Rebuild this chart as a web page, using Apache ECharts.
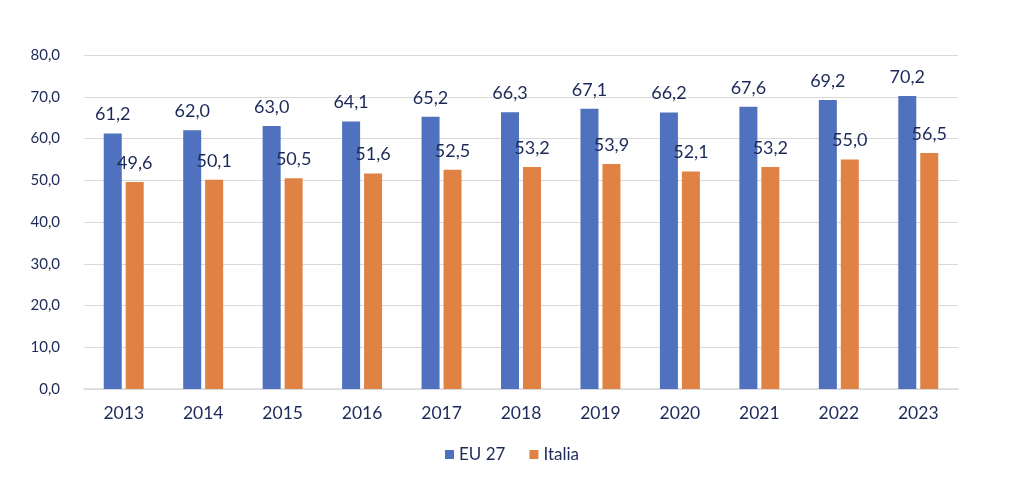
<!DOCTYPE html>
<html><head><meta charset="utf-8">
<script src="https://cdn.jsdelivr.net/npm/echarts@6/dist/echarts.min.js"></script>
<style>html,body{margin:0;padding:0;background:#fff}#c{width:1024px;height:501px}</style>
</head><body><div id="c"></div>
<script>
const years = ['2013','2014','2015','2016','2017','2018','2019','2020','2021','2022','2023'];
const eu27 = [61.2,62.0,63.0,64.1,65.2,66.3,67.1,66.2,67.6,69.2,70.2];
const italia = [49.6,50.1,50.5,51.6,52.5,53.2,53.9,52.1,53.2,55.0,56.5];
const fmt = v => v.toFixed(1).replace('.', ',');
const txt = '#1c2a58';
const chart = echarts.init(document.getElementById('c'));
chart.setOption({
  animation:false,
  textStyle:{fontFamily:'Lato'},
  grid:{left:84,right:66,top:55,bottom:112},
  legend:{bottom:33,left:'center',itemWidth:9,itemHeight:9,itemGap:24,icon:'rect',
    textStyle:{color:txt,fontSize:17,fontFamily:'Lato'}},
  xAxis:{type:'category',data:years,axisTick:{show:false},
    axisLine:{lineStyle:{color:'#d9d9d9',width:1.5}},
    axisLabel:{color:txt,fontSize:17.5,margin:15,fontFamily:'Lato'}},
  yAxis:{type:'value',min:0,max:80,interval:10,
    axisLabel:{color:txt,fontSize:15,margin:24,formatter:v=>fmt(v),fontFamily:'Lato'},
    splitLine:{lineStyle:{color:'#d9d9d9',width:1.2}}},
  series:[
    {name:'EU 27',type:'bar',data:eu27,barWidth:18,barGap:'22%',
     itemStyle:{color:'#4f71be'},
     label:{show:true,position:'top',distance:10,color:txt,fontSize:18,formatter:p=>fmt(p.value)}},
    {name:'Italia',type:'bar',data:italia,barWidth:18,
     itemStyle:{color:'#df8244'},
     label:{show:true,position:'top',distance:10,color:txt,fontSize:18,formatter:p=>fmt(p.value)}}
  ]
});
</script></body></html>
